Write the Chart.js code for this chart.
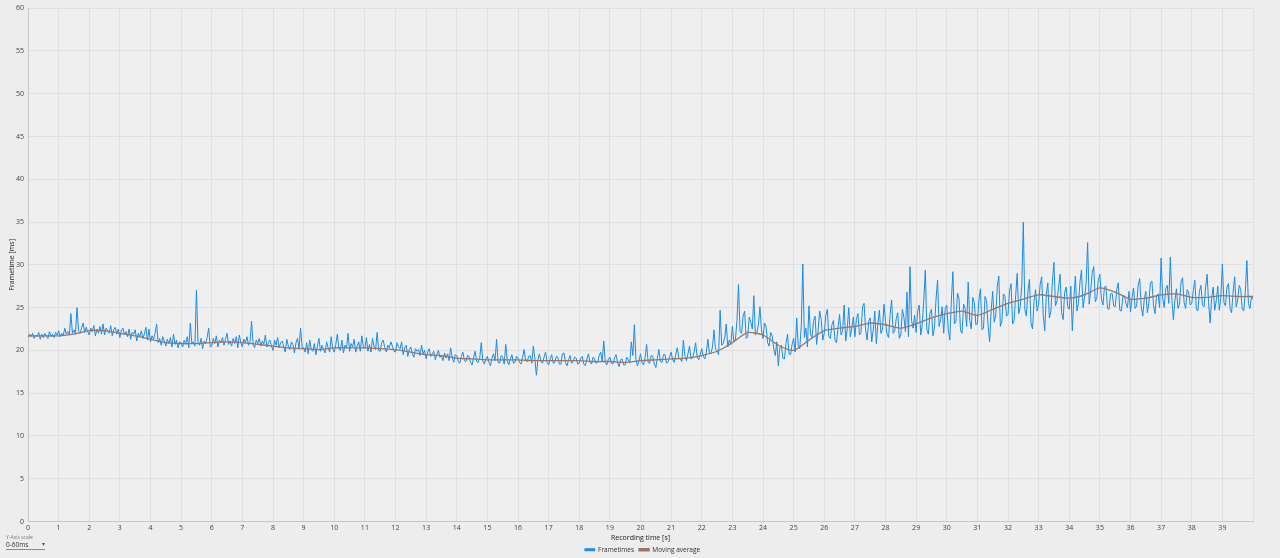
<!DOCTYPE html>
<html>
<head>
<meta charset="utf-8">
<script src="https://cdn.jsdelivr.net/npm/chart.js@4.4.1/dist/chart.umd.min.js"></script>
<style>
  html, body { margin: 0; padding: 0; background: #ededed; }
  #wrap { position: relative; width: 1280px; height: 558px; }
  #c { display: block; }
  #yscale { position: absolute; left: 6px; top: 534px; font-family: "Open Sans", "Noto Sans", sans-serif; color: #555; }
  #yscale .lbl { font-size: 5px; line-height: 6px; color: #777; }
  #yscale .sel { font-size: 6.5px; line-height: 9px; width: 39px; border-bottom: 1px solid #8a8a8a; position: relative; color: #333; }
  #yscale .sel span { position: absolute; right: 0px; top: 0px; font-size: 6px; color: #555; }
</style>
</head>
<body>
<div id="wrap">
  <canvas id="c" width="1280" height="558"></canvas>
  <div id="yscale"><div class="lbl">Y-Axis scale</div><div class="sel">0-60ms<span>▾</span></div></div>
</div>
<script>
// ---- data ----
const SAMPLE_INTERVAL_S = 0.05;  // frametime samples, one per 0.05 s (one row = one second)
const frametimesMs = [
  21.5,21.9,21.6,22.0,21.4,21.8,21.6,22.1,21.3,21.9,21.5,22.0,21.7,21.4,22.2,21.6,21.9,21.5,22.1,21.8,
  22.3,21.6,22.0,21.7,22.6,21.9,22.2,21.8,24.3,22.0,22.4,21.9,25.0,22.3,22.0,22.6,23.2,22.1,22.7,22.2,
  21.8,22.6,22.2,22.9,21.7,22.5,22.0,22.8,21.9,23.1,21.8,22.6,22.3,22.0,22.9,21.7,22.4,22.7,21.9,22.5,
  21.5,22.4,22.6,21.8,22.2,21.6,22.5,21.3,22.1,21.9,22.4,21.1,22.0,21.6,22.3,21.4,21.9,22.7,21.2,22.5,
  21.0,21.7,21.3,22.0,23.1,20.9,21.4,20.6,21.6,21.1,20.5,21.3,20.8,21.5,20.4,21.9,20.7,21.2,20.3,21.0,
  20.9,20.4,21.2,20.7,21.6,20.3,23.2,20.8,21.0,20.5,27.0,20.9,20.6,21.4,20.2,21.1,20.8,21.5,22.6,20.4,
  20.5,21.4,20.8,21.7,20.4,21.2,20.9,21.5,20.6,21.3,22.0,20.7,21.1,20.5,21.4,20.8,21.6,20.3,21.8,20.9,
  20.4,21.3,20.9,21.6,20.6,21.0,23.4,20.7,20.3,21.2,20.8,21.4,20.5,21.1,20.7,21.8,20.4,20.9,21.2,20.5,
  20.0,21.2,20.6,21.5,20.3,20.9,21.1,20.4,19.8,21.3,20.5,20.1,21.0,20.7,19.7,20.9,21.4,20.2,22.6,20.4,
  20.3,19.8,20.9,19.6,21.2,20.1,19.9,20.8,19.5,20.5,21.4,19.9,20.6,20.1,19.7,21.0,20.3,19.8,21.6,20.2,
  19.8,20.7,21.9,20.2,20.0,21.2,19.7,20.6,20.3,22.0,19.9,20.8,20.4,21.3,19.8,20.5,21.0,19.9,21.7,20.4,
  20.2,21.5,19.9,20.7,19.8,21.4,20.4,20.1,22.1,20.0,19.9,20.9,21.2,20.3,19.8,20.6,20.3,21.0,20.5,19.9,
  19.8,20.9,20.4,20.2,21.0,19.5,20.3,20.6,19.3,20.1,20.4,19.6,19.2,20.2,19.9,20.1,19.4,20.6,19.6,20.0,
  19.0,19.8,20.2,19.3,19.6,19.9,18.9,19.5,20.0,19.2,19.4,18.8,19.7,19.1,19.6,18.8,20.3,19.2,18.6,19.5,
  19.4,18.7,18.5,19.3,19.8,18.8,18.7,19.4,19.3,18.6,18.3,19.2,19.9,18.7,18.6,19.1,20.9,18.8,18.4,19.0,
  19.3,18.6,18.2,19.1,19.6,18.8,21.3,18.6,18.5,19.4,19.2,18.4,20.7,18.8,18.3,19.0,19.5,18.5,18.6,19.3,
  19.1,18.6,18.4,19.2,20.1,18.8,18.7,19.3,19.4,18.5,20.5,19.0,17.1,18.9,19.6,18.7,18.5,19.2,19.8,18.6,
  18.3,19.0,19.5,18.5,18.6,19.3,19.2,18.4,18.4,19.6,19.7,18.6,18.2,18.9,19.4,18.5,18.7,19.2,19.1,18.4,
  18.5,19.1,19.3,18.4,18.2,19.0,19.6,18.6,18.4,19.2,19.0,18.5,18.6,19.4,19.8,18.7,21.1,18.6,18.3,19.0,
  19.2,18.5,18.4,19.1,19.5,18.6,18.1,18.9,19.0,18.3,18.3,19.2,18.9,18.5,21.0,19.4,23.0,18.9,18.2,18.8,
  19.6,18.5,18.3,19.2,20.7,18.6,18.5,19.4,19.3,18.4,18.0,19.1,20.1,18.7,18.6,19.5,19.5,18.5,18.7,19.2,
  19.8,18.9,18.6,19.5,20.3,19.1,19.0,18.7,21.2,19.3,18.8,19.6,20.5,19.0,19.1,19.8,20.9,19.2,18.9,19.5,
  20.2,19.3,19.0,19.8,21.3,19.7,19.6,20.4,22.4,20.1,20.0,19.5,24.7,20.6,20.8,21.5,23.1,20.4,21.2,20.7,
  22.8,21.0,21.3,23.5,27.7,22.2,22.0,24.0,24.6,21.4,21.6,23.9,23.3,22.5,26.4,21.8,22.1,23.0,25.1,22.4,
  21.4,23.2,22.8,20.9,20.5,22.1,21.7,20.2,19.4,21.0,18.2,20.3,20.6,19.1,19.0,20.8,21.9,19.6,19.5,20.7,
  21.4,19.8,23.8,20.6,20.2,22.9,30.1,21.5,22.6,20.4,25.2,21.9,21.5,23.4,24.0,20.7,22.3,24.6,23.6,21.2,
  22.0,24.1,24.8,21.6,21.4,23.0,23.5,21.2,20.9,22.7,24.2,21.8,22.3,25.3,21.1,22.5,25.0,21.6,22.6,23.9,
  21.6,23.7,24.3,21.8,22.1,25.1,25.5,22.4,21.2,23.4,23.8,21.0,22.4,24.6,20.8,23.1,24.7,22.0,22.5,25.4,
  23.4,21.9,21.5,24.2,25.9,22.0,22.3,23.7,24.4,21.4,21.8,24.8,23.9,22.2,26.8,21.6,29.8,23.5,22.6,24.1,
  22.1,24.6,25.3,21.8,23.0,25.9,29.4,22.4,21.9,24.3,24.8,21.7,22.7,26.0,28.2,22.8,23.6,25.1,22.0,24.9,
  25.3,22.4,21.2,25.8,29.2,23.1,23.4,26.7,26.1,22.3,22.0,25.4,24.9,22.8,28.0,23.5,22.5,26.2,25.6,23.0,
  23.1,25.9,27.2,22.4,22.6,26.3,25.8,22.9,21.0,24.7,26.9,23.3,24.1,27.5,28.7,22.8,23.4,26.6,26.3,24.0,
  24.2,27.0,27.8,23.1,23.5,26.4,29.0,24.3,25.1,27.6,35.0,24.8,24.0,26.9,28.3,23.2,22.5,25.7,27.1,24.6,
  25.4,27.7,28.6,24.1,22.3,26.5,27.9,23.8,24.5,28.1,30.3,25.2,25.8,27.3,28.9,24.4,23.6,26.8,27.4,25.1,
  24.8,27.5,22.3,26.0,28.7,24.6,25.5,28.0,29.4,25.0,26.2,27.8,32.6,25.4,27.0,29.1,29.8,25.7,26.1,28.3,
  28.9,26.0,25.3,27.4,27.5,24.9,24.8,26.6,26.7,25.2,25.1,27.1,27.9,24.7,24.6,26.3,26.4,25.5,25.0,26.9,
  24.5,26.2,27.3,24.9,25.2,27.6,28.4,25.1,24.0,26.0,26.9,24.4,25.6,27.9,28.1,25.3,24.3,26.4,26.6,25.0,
  30.8,26.1,25.0,27.2,27.6,25.5,30.9,26.0,23.6,25.8,27.2,24.9,25.4,28.0,28.5,25.6,24.9,27.1,26.8,25.3,
  25.5,27.0,28.2,24.8,24.6,26.9,27.6,25.3,25.1,27.3,28.9,25.6,23.2,26.1,27.4,24.7,25.8,27.5,24.7,26.2,
  30.1,25.6,25.2,27.4,27.8,24.9,24.4,26.8,28.6,25.1,25.9,27.6,27.1,24.8,24.6,26.9,30.5,25.5,24.9,26.3,
  26.0
];
const AVG_INTERVAL_S = 0.5;      // moving average points, one per 0.5 s
const movingAverageMs = [
  21.7, 21.7, 21.7, 21.9, 22.3, 22.3, 22.0, 21.7, 21.3, 20.9,
  20.8, 20.8, 20.9, 21.0, 20.9, 20.7, 20.5, 20.3, 20.2, 20.1,
  20.3, 20.3, 20.3, 20.2, 20.1, 19.8, 19.5, 19.4, 19.1, 19.0,
  18.9, 18.9, 18.9, 18.8, 18.8, 18.8, 18.8, 18.7, 18.7, 18.6,
  18.8, 18.9, 19.0, 19.1, 19.4, 19.9, 20.9, 22.1, 21.8, 20.6,
  20.0, 21.2, 22.3, 22.6, 22.8, 23.2, 23.0, 22.6, 23.1, 23.8,
  24.3, 24.6, 24.1, 24.8, 25.5, 26.0, 26.5, 26.3, 26.1, 26.5,
  27.3, 26.8, 26.0, 26.1, 26.5, 26.6, 26.2, 26.2, 26.4, 26.3,
  26.3
];
const seriesNames = ["Frametimes", "Moving average"];
const xAxisTitle = "Recording time [s]";
const yAxisTitle = "Frametime [ms]";
const xMax = 40, yMax = 60, xStep = 1, yStep = 5;

// ---- build library data ----
const framePoints = frametimesMs.map((v, i) => ({ x: +(i * SAMPLE_INTERVAL_S).toFixed(3), y: v }));
const avgPoints = movingAverageMs.map((v, i) => ({ x: +(i * AVG_INTERVAL_S).toFixed(3), y: v }));

const FONT = "'Open Sans', 'Noto Sans', sans-serif";

const legendShift = {
  id: 'legendShift',
  afterLayout(chart) {
    const lg = chart.legend;
    if (lg) { lg.top += 5; lg.bottom += 5; lg.left += 16; lg.right += 16; }
  }
};

new Chart(document.getElementById('c'), {
  type: 'line',
  data: {
    datasets: [
      { label: seriesNames[0], data: framePoints, borderColor: '#1a8ce6', backgroundColor: '#1a8ce6',
        borderWidth: 1, pointRadius: 0, tension: 0, order: 1 },
      { label: seriesNames[1], data: avgPoints, borderColor: '#98766a', backgroundColor: '#98766a',
        borderWidth: 1.3, pointRadius: 0, tension: 0.2, order: 0 }
    ]
  },
  options: {
    responsive: false,
    animation: false,
    events: [],
    layout: { padding: { top: 2, right: 27, left: 0, bottom: 0 } },
    plugins: {
      legend: {
        position: 'bottom',
        labels: { boxWidth: 10, boxHeight: 2, padding: 5, color: '#333', font: { family: FONT, size: 6.5 },
          sort: (a, b) => a.datasetIndex - b.datasetIndex }
      },
      tooltip: { enabled: false }
    },
    scales: {
      x: {
        type: 'linear', min: 0, max: xMax,
        afterFit(s) { s.height = 15; },
        ticks: { stepSize: xStep, padding: 2, color: '#444', maxRotation: 0, autoSkip: false,
          font: { family: FONT, size: 7 },
          callback: (v) => (v >= xMax ? '' : v) },
        grid: { color: '#e0e0e0', drawTicks: false, lineWidth: 1 },
        border: { color: '#c6c6c6' },
        title: { display: true, text: xAxisTitle, color: '#222', font: { family: FONT, size: 7 },
          padding: { top: 0, bottom: -6 } }
      },
      y: {
        min: 0, max: yMax,
        afterFit(s) { s.width = 28; },
        ticks: { stepSize: yStep, padding: 4, color: '#444', font: { family: FONT, size: 7 } },
        grid: { color: '#e0e0e0', drawTicks: false, lineWidth: 1 },
        border: { color: '#c6c6c6' },
        title: { display: true, text: yAxisTitle, color: '#222', font: { family: FONT, size: 7 },
          padding: { top: 8, bottom: 0 } }
      }
    }
  },
  plugins: [legendShift, {
    id: 'bg',
    beforeDraw(chart) {
      const { ctx, chartArea: a } = chart;
      ctx.save();
      ctx.fillStyle = '#efefef';
      ctx.fillRect(a.left, a.top, a.right - a.left, a.bottom - a.top);
      ctx.restore();
    }
  }]
});
</script>
</body>
</html>
